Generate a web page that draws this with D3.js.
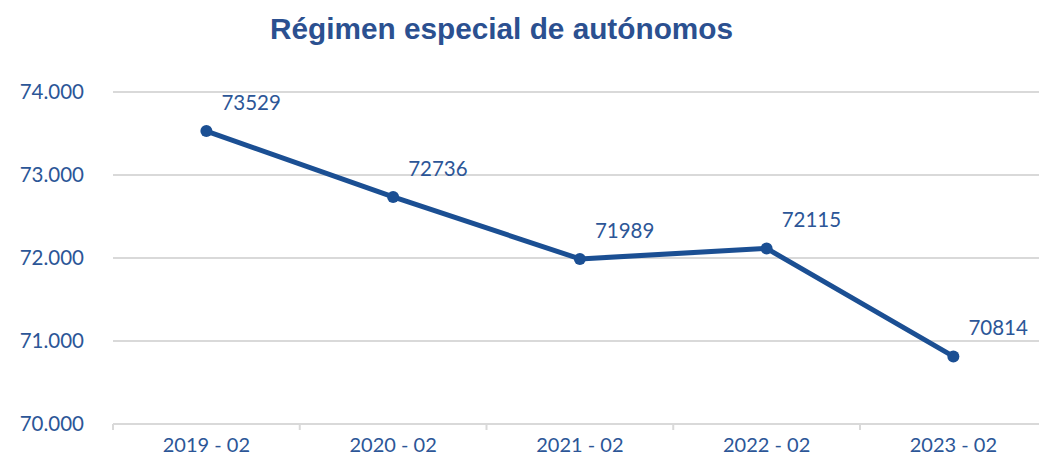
<html>
<head>
<meta charset="utf-8">
<script src="https://d3js.org/d3.v7.min.js"></script>
<style>
  body { margin: 0; background: #fff; }
  text { font-family: Lato, "Open Sans", sans-serif; }
</style>
</head>
<body>
<svg width="1039" height="457"></svg>
<script>
// data
const periods = ["2019 - 02", "2020 - 02", "2021 - 02", "2022 - 02", "2023 - 02"];
const afiliados = [73529, 72736, 71989, 72115, 70814];
const yTicks = [70000, 71000, 72000, 73000, 74000];

const svg = d3.select("svg");
const blue = "#1b4f93";
const labelBlue = "#2c5697";

var left = 113, step = 186.75;
var xScale = d3.scaleBand().domain(periods).range([left, left + step * periods.length]).padding(0);
var yScale = d3.scaleLinear().domain([70000, 74000]).range([424, 92]);

// gridlines
svg.append("g")
  .selectAll("line")
  .data(yTicks.slice(1))
  .enter()
  .append("line")
  .attr("x1", left)
  .attr("x2", 1039)
  .attr("y1", d => yScale(d))
  .attr("y2", d => yScale(d))
  .attr("stroke", "#d9d9d9")
  .attr("stroke-width", 2);

// y labels
var fmt = d => d3.format(",")(d).replace(/,/g, ".");
svg.append("g")
  .selectAll("text")
  .data(yTicks)
  .enter()
  .append("text")
  .attr("x", 84)
  .attr("y", d => yScale(d))
  .attr("dy", "0.35em")
  .attr("text-anchor", "end")
  .attr("fill", labelBlue)
  .style("font-size", "20.5px")
  .text(fmt);

// x axis
var xAxis = svg.append("g")
  .attr("transform", "translate(0," + yScale(70000) + ")")
  .call(d3.axisBottom(xScale).tickSize(0).tickPadding(14));
xAxis.select(".domain").remove();
xAxis.selectAll("text")
  .attr("fill", labelBlue)
  .style("font-size", "20px")
  .style("font-family", "Lato, sans-serif");

xAxis.append("line")
  .attr("x1", left).attr("x2", 1039)
  .attr("y1", 0).attr("y2", 0)
  .attr("stroke", "#d9d9d9").attr("stroke-width", 2);

xAxis.selectAll(".sep")
  .data(d3.range(periods.length))
  .enter()
  .append("line")
  .attr("class", "sep")
  .attr("x1", i => left + i * xScale.step())
  .attr("x2", i => left + i * xScale.step())
  .attr("y1", 0).attr("y2", 6)
  .attr("stroke", "#d9d9d9").attr("stroke-width", 2);

var cx = d => xScale(d) + xScale.bandwidth() / 2;

// line
var line = d3.line()
  .x((d, i) => cx(periods[i]))
  .y(d => yScale(d));

svg.append("path")
  .datum(afiliados)
  .attr("d", line)
  .attr("fill", "none")
  .attr("stroke", blue)
  .attr("stroke-width", 5)
  .attr("stroke-linejoin", "round");

svg.append("g")
  .selectAll("circle")
  .data(afiliados)
  .enter()
  .append("circle")
  .attr("cx", (d, i) => cx(periods[i]))
  .attr("cy", d => yScale(d))
  .attr("r", 6)
  .attr("fill", blue);

// value labels
svg.append("g")
  .selectAll("text")
  .data(afiliados)
  .enter()
  .append("text")
  .attr("x", (d, i) => cx(periods[i]) + 15)
  .attr("y", d => yScale(d) - 21)
  .attr("fill", labelBlue)
  .style("font-size", "20.5px")
  .text(d => d);

// title
svg.append("text")
  .attr("x", 270)
  .attr("y", 39)
  .attr("textLength", 463)
  .attr("lengthAdjust", "spacingAndGlyphs")
  .attr("fill", "#2b5090")
  .style("font-family", "'Liberation Sans', Arial, sans-serif")
  .style("font-weight", "bold")
  .style("font-size", "30px")
  .text("Régimen especial de autónomos");
</script>
</body>
</html>
